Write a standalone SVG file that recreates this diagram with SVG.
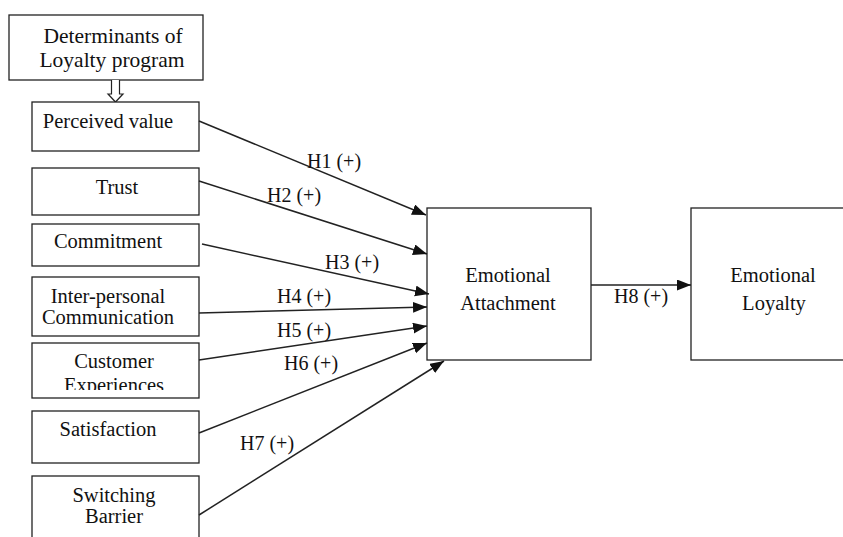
<svg xmlns="http://www.w3.org/2000/svg" width="843" height="537" viewBox="0 0 843 537">
<style>
.box{fill:#fff;stroke:#222;stroke-width:1.3}
.t{font-family:"Liberation Serif","Times New Roman",serif;font-size:20.5px;fill:#111;text-anchor:middle}
.h{font-family:"Liberation Serif","Times New Roman",serif;font-size:20px;fill:#111}
.c{stroke:#222;stroke-width:1.5;fill:none;marker-end:url(#ah)}
</style>
<defs>
<marker id="ah" markerUnits="userSpaceOnUse" markerWidth="15" markerHeight="12" refX="14" refY="5.5" orient="auto">
<path d="M0,0 L14,5.5 L0,11 Z" fill="#111"/>
</marker>
<clipPath id="clipCE"><rect x="30" y="340" width="175" height="50"/></clipPath>
</defs>
<rect width="843" height="537" fill="#fff"/>
<g id="determinants">
<rect class="box" x="9" y="15" width="194" height="65"/>
<text class="t" x="113" y="43" style="font-size:21.5px">Determinants of</text>
<text class="t" x="112" y="67" style="font-size:21.5px">Loyalty program</text>
<path d="M111.5,80 V94 H108 L115.5,102 L123,94 H119.5 V80" fill="#fff" stroke="#222" stroke-width="1.2"/>
</g>
<g id="perceived-value">
<rect class="box" x="32" y="102" width="167" height="49"/>
<text class="t" x="108" y="128">Perceived value</text>
</g>
<g id="trust">
<rect class="box" x="32" y="168" width="167" height="47"/>
<text class="t" x="117" y="194">Trust</text>
</g>
<g id="commitment">
<rect class="box" x="32" y="224" width="167" height="42"/>
<text class="t" x="108" y="248">Commitment</text>
</g>
<g id="interpersonal">
<rect class="box" x="32" y="277" width="167" height="59"/>
<text class="t" x="108" y="303">Inter-personal</text>
<text class="t" x="108" y="324">Communication</text>
</g>
<g id="customer-experiences">
<rect class="box" x="32" y="343" width="167" height="55"/>
<g clip-path="url(#clipCE)">
<text class="t" x="114" y="368">Customer</text>
<text class="t" x="114" y="392">Experiences</text>
</g>
</g>
<g id="satisfaction">
<rect class="box" x="32" y="411" width="167" height="52"/>
<text class="t" x="108" y="436">Satisfaction</text>
</g>
<g id="switching-barrier">
<rect class="box" x="32" y="476" width="167" height="70"/>
<text class="t" x="114" y="502">Switching</text>
<text class="t" x="114" y="523">Barrier</text>
</g>
<g id="emotional-attachment">
<rect class="box" x="427" y="208" width="164" height="152"/>
<text class="t" x="508" y="282">Emotional</text>
<text class="t" x="508" y="310">Attachment</text>
</g>
<g id="emotional-loyalty">
<rect class="box" x="691" y="208" width="160" height="152"/>
<text class="t" x="773" y="282">Emotional</text>
<text class="t" x="774" y="310">Loyalty</text>
</g>
<g id="connectors">
<line class="c" x1="199" y1="121" x2="426" y2="215"/>
<line class="c" x1="199" y1="181" x2="427" y2="254"/>
<line class="c" x1="202" y1="244" x2="429" y2="294"/>
<line class="c" x1="199" y1="313" x2="427" y2="307"/>
<line class="c" x1="199" y1="360" x2="427" y2="326"/>
<line class="c" x1="199" y1="433" x2="427" y2="343"/>
<line class="c" x1="199" y1="515" x2="444" y2="361"/>
<line class="c" x1="591" y1="285" x2="691" y2="285"/>
<text class="h" x="307" y="168">H1 (+)</text>
<text class="h" x="267" y="202">H2 (+)</text>
<text class="h" x="325" y="269">H3 (+)</text>
<text class="h" x="277" y="303">H4 (+)</text>
<text class="h" x="277" y="337">H5 (+)</text>
<text class="h" x="284" y="370">H6 (+)</text>
<text class="h" x="240" y="450">H7 (+)</text>
<text class="h" x="614" y="303">H8 (+)</text>
</g>
</svg>
